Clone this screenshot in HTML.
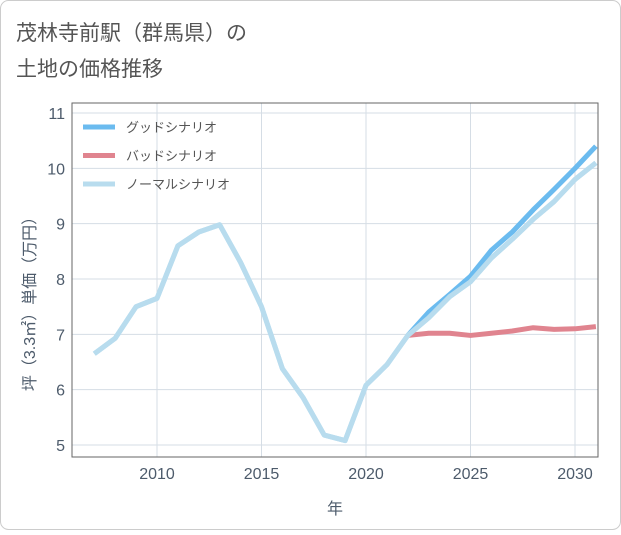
<!DOCTYPE html>
<html><head><meta charset="utf-8"><style>
body{margin:0;background:#fff;}
svg{font-family:"Liberation Sans","Noto Sans CJK JP",sans-serif;}
</style></head><body>
<svg width="621" height="530">
<rect x="0.5" y="0.5" width="620" height="529" rx="8" fill="#fff" stroke="#ccc"/>
<text x="16" y="40" font-size="21" fill="#555">茂林寺前駅（群馬県）の</text>
<text x="16" y="76" font-size="21" fill="#555">土地の価格推移</text>
<g id="plot"></g>
</svg>
<script>
const years=[2007,2008,2009,2010,2011,2012,2013,2014,2015,2016,2017,2018,2019,2020,2021,2022,2023,2024,2025,2026,2027,2028,2029,2030,2031];
const normal=[6.65,6.93,7.5,7.65,8.6,8.85,8.98,8.3,7.5,6.38,5.85,5.18,5.08,6.08,6.45,6.98,7.3,7.68,7.95,8.38,8.72,9.08,9.4,9.8,10.1];
const futYears=[2022,2023,2024,2025,2026,2027,2028,2029,2030,2031];
const good=[6.98,7.4,7.72,8.05,8.52,8.85,9.25,9.62,10.0,10.4];
const bad=[6.98,7.02,7.02,6.98,7.02,7.06,7.12,7.09,7.1,7.14];
const xTicks=[2010,2015,2020,2025,2030];
const yTicks=[5,6,7,8,9,10,11];
const L=72,R=598,T=103,B=457;
const X=y=>157+(y-2010)*20.9;
const Y=v=>445-(v-5)*55.33;
const g=document.getElementById('plot');const NS='http://www.w3.org/2000/svg';
function mk(t,a,p){const e=document.createElementNS(NS,t);for(const k in a)e.setAttribute(k,a[k]);(p||g).appendChild(e);return e;}
xTicks.forEach(t=>{const l=mk('line',{x1:X(t),x2:X(t),y1:T,y2:B,stroke:'#d5dde5'});
const s=mk('text',{x:X(t),y:479,'font-size':16,fill:'#4d5b6b','text-anchor':'middle'});s.textContent=t;});
yTicks.forEach(t=>{const l=mk('line',{x1:L,x2:R,y1:Y(t),y2:Y(t),stroke:'#d5dde5'});
const s=mk('text',{x:65,y:Y(t)+6,'font-size':16,fill:'#4d5b6b','text-anchor':'end'});s.textContent=t;});
const ax=mk('rect',{x:L,y:T,width:R-L,height:B-T,fill:'none',stroke:'#666'});
const cp=mk('clipPath',{id:'c'});mk('rect',{x:L,y:T,width:R-L,height:B-T},cp);
const gg=mk('g',{'clip-path':'url(#c)'});
[[years,normal,'#b8dcee','normal-line'],[futYears,bad,'#e0848f','bad-line'],[futYears,good,'#6bbbef','good-line']].forEach(a=>{const p=mk('polyline',{points:a[0].map((y,i)=>X(y)+','+Y(a[1][i])).join(' '),fill:'none',stroke:a[2],'stroke-width':5,'stroke-linejoin':'round'},gg);});
const p2=mk('polyline',{points:years.map((y,i)=>X(y)+','+Y(normal[i])).join(' '),fill:'none',stroke:'#b8dcee','stroke-width':5,'stroke-linejoin':'round'},gg);
const leg=[['グッドシナリオ','#6bbbef'],['バッドシナリオ','#e0848f'],['ノーマルシナリオ','#b8dcee']];
leg.forEach((d,i)=>{const y=127+i*28.5;const l=mk('line',{x1:83,x2:115,y1:y,y2:y,stroke:d[1],'stroke-width':5});
const s=mk('text',{x:126,y:y+5,'font-size':13,fill:'#555'});s.textContent=d[0];});
const xt=mk('text',{x:335,y:514,'font-size':16,fill:'#4d5b6b','text-anchor':'middle'});xt.textContent='年';
const yt=mk('text',{x:0,y:0,'font-size':16,fill:'#4d5b6b','text-anchor':'middle',transform:'translate(35,300) rotate(-90)'});yt.textContent='坪（3.3㎡）単価（万円）';
</script>
</body></html>
